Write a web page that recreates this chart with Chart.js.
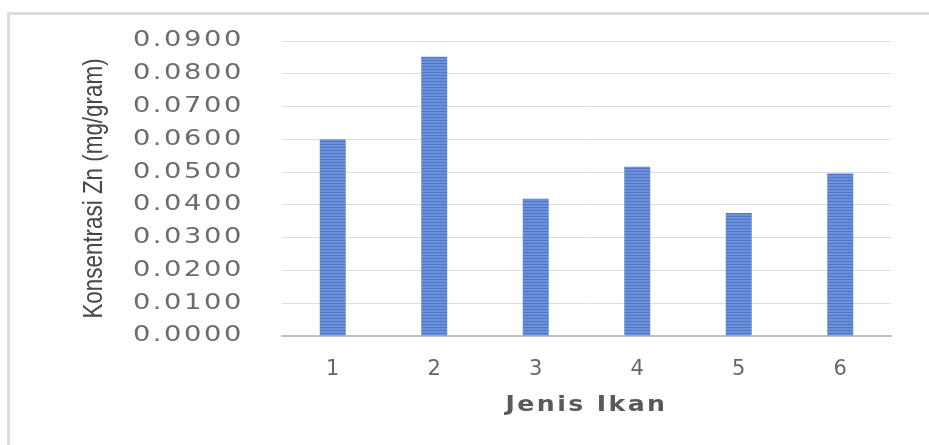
<!DOCTYPE html>
<html>
<head>
<meta charset="utf-8">
<script src="https://cdn.jsdelivr.net/npm/chart.js@4"></script>
<style>
    html, body { margin: 0; padding: 0; background: #fff; }
    #wrap { position: relative; width: 929px; height: 445px; overflow: hidden; }
    #frame {
        position: absolute; left: 7px; top: 12px; width: 940px; height: 460px;
        border-top: 3px solid #dcdcdc; border-left: 3px solid #dcdcdc;
    }
    canvas { position: absolute; left: 0; top: 0; }
</style>
</head>
<body>
<div id="wrap">
    <div id="frame"></div>
    <canvas id="znChart" width="929" height="445"></canvas>
</div>
<script>
// data
const jenisIkan = ['1', '2', '3', '4', '5', '6'];
const konsentrasiZn = [0.0600, 0.0852, 0.0419, 0.0516, 0.0375, 0.0496];
const yTicks = [0, 0.01, 0.02, 0.03, 0.04, 0.05, 0.06, 0.07, 0.08, 0.09];

// gap between the y numbers and the plot
const yLabelGap = 38;

// striped bar fill
function stripePattern() {
    const c = document.createElement('canvas');
    c.width = 4;
    c.height = 3;
    const g = c.getContext('2d');
    g.fillStyle = '#6c90d9';
    g.fillRect(0, 0, 4, 3);
    g.fillStyle = '#4e76c7';
    g.fillRect(0, 0, 4, 1);
    return g.createPattern(c, 'repeat');
}

// wrap a scale draw method so its text gets stretched / spaced
function stretchText(scale, method, opts) {
    const orig = scale[method];
    scale[method] = function () {
        const ctx = this.ctx;
        const o = opts(this);
        ctx.save();
        ctx.letterSpacing = o.spacing || '0px';
        ctx.translate(o.dx || 0, 0);
        ctx.translate(o.cx, o.cy);
        ctx.scale(o.sx, o.sy);
        ctx.translate(-o.cx, -o.cy);
        orig.call(this);
        ctx.restore();
    };
}

const textShape = {
    id: 'textShape',
    afterUpdate(chart) {
        const { x, y } = chart.scales;
        if (y._shaped) return;
        // narrow rotated title
        stretchText(y, 'drawTitle', s => ({ cx: 0, cy: (s.top + s.bottom) / 2, sx: 1, sy: 0.8 }));
        // wide tick numbers, anchored on their right edge
        stretchText(y, 'drawLabels', s => ({ cx: s.right, cy: 0, sx: 1.3, sy: 1, dx: -yLabelGap, spacing: '2px' }));
        stretchText(x, 'drawTitle', s => ({ cx: (s.left + s.right) / 2, cy: 0, sx: 1.2, sy: 1, spacing: '2px' }));
        y._shaped = true;
    },
};

const chart = new Chart(document.getElementById('znChart'), {
    type: 'bar',
    data: {
        labels: jenisIkan,
        datasets: [
            {
                data: konsentrasiZn,
                backgroundColor: stripePattern(),
                borderWidth: 0,
                barPercentage: 0.256,
                categoryPercentage: 1,
            },
        ],
    },
    options: {
        responsive: false,
        animation: false,
        events: [],
        layout: {
            padding: { left: 0, top: 41, right: 38, bottom: 0 },
        },
        plugins: {
            legend: { display: false },
            tooltip: { enabled: false },
        },
        scales: {
            x: {
                grid: { display: false },
                border: { display: true, color: '#bfbfbf', width: 2 },
                ticks: {
                    color: '#666',
                    font: { family: 'DejaVu Sans', size: 21 },
                    padding: 13,
                },
                title: {
                    display: true,
                    text: 'Jenis Ikan',
                    color: '#595959',
                    font: { family: 'DejaVu Sans', size: 21, weight: 'bold' },
                    padding: { top: 0, bottom: 27 },
                },
                afterFit(scale) { scale.height = 109; },
            },
            y: {
                min: 0,
                max: 0.09,
                afterBuildTicks(scale) {
                    scale.ticks = yTicks.map(v => ({ value: v }));
                },
                grid: { color: '#dedede', lineWidth: 1, drawTicks: false },
                border: { display: false },
                ticks: {
                    color: '#6b6b6b',
                    font: { family: 'DejaVu Sans', size: 21 },
                    padding: 0,
                    callback: v => Number(v).toFixed(4),
                },
                title: {
                    display: true,
                    text: 'Konsentrasi Zn (mg/gram)',
                    color: '#474747',
                    font: { family: '"Liberation Sans Narrow", "Liberation Sans"', size: 28 },
                    padding: { top: 77, bottom: 0 },
                },
                afterFit(scale) { scale.width = 282; },
            },
        },
    },
    plugins: [textShape],
});
</script>
</body>
</html>
